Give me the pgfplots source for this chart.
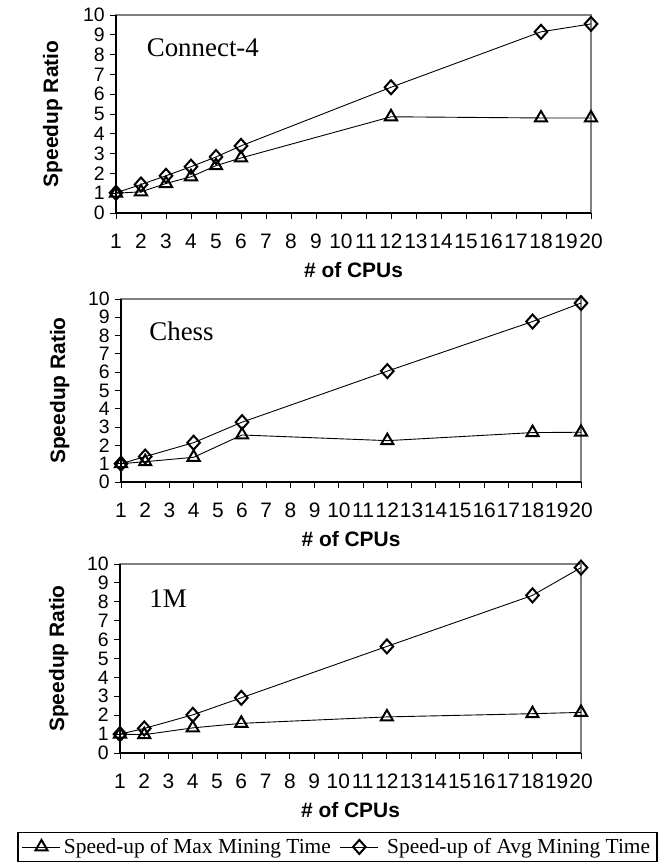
\documentclass[border=0pt]{standalone}
\usepackage{fontspec}
\setmainfont{Liberation Serif}
\setsansfont{Liberation Sans}
\usepackage{pgfplots}
\pgfplotsset{compat=1.18}

\pgfplotsset{
  speedup/.style={
    scale only axis, clip=false,
    xmin=1, xmax=20, ymin=0, ymax=10,
    xtick={1,...,20}, ytick={0,...,10},
    axis lines=left,
    axis line style={-, black, line width=1.3bp},
    axis background/.style={draw=gray, line width=1.8bp},
    tick align=outside,
    major tick length=6bp,
    tick style={black, line width=1bp},
    /pgf/number format/assume math mode=true,
    xticklabel style={font=\sffamily\fontsize{21}{21}\selectfont, inner sep=0bp,
      text height=15bp, text depth=0bp, anchor=north, yshift=-14bp},
    yticklabel style={font=\sffamily\fontsize{19.5}{19.5}\selectfont, inner sep=1bp, xshift=-4bp},
    xlabel={\# of CPUs}, ylabel={Speedup Ratio},
    every axis x label/.style={at={(axis description cs:0.5,0)}, yshift=-57bp, anchor=center,
      font=\sffamily\bfseries\fontsize{21}{21}\selectfont},
    every axis y label/.style={at={(axis description cs:-0.133,0.5)}, anchor=center, rotate=90,
      font=\sffamily\bfseries\fontsize{21}{21}\selectfont},
    legend image code/.code={\draw[mark repeat=2, mark phase=2, ##1] plot coordinates {(0bp,0bp) (19bp,0bp) (38bp,0bp)};},
  },
  maxline/.style={black, line width=0.9bp, mark=triangle, mark size=7bp,
    mark options={solid, fill=white, line width=2bp}},
  avgline/.style={black, line width=0.9bp, mark=diamond, mark size=7bp,
    mark options={solid, fill=white, line width=2bp, xscale=1.2}},
}

\begin{document}
\begin{tikzpicture}
\useasboundingbox (0,0) rectangle (669bp,-868bp);

% Connect-4
\begin{axis}[speedup, at={(116bp,-213bp)}, width=475bp, height=198bp]
\addplot[maxline] coordinates {(1,1.0) (2,1.07) (3,1.49) (4,1.83) (5,2.39) (6,2.78) (12,4.86) (18,4.8) (20,4.8)};
\addplot[avgline] coordinates {(1,1.02) (2,1.44) (3,1.88) (4,2.34) (5,2.83) (6,3.39) (12,6.35) (18,9.15) (20,9.55)};
\node[anchor=base west, font=\fontsize{27}{27}\selectfont] at (rel axis cs:0.0575,0.79) {Connect-4};
\end{axis}

% Chess
\begin{axis}[speedup, at={(121bp,-482bp)}, width=460bp, height=183bp]
\addplot[maxline] coordinates {(1,1.0) (2,1.11) (4,1.35) (6,2.57) (12,2.26) (18,2.7) (20,2.72)};
\addplot[avgline] coordinates {(1,1.0) (2,1.39) (4,2.15) (6,3.27) (12,6.06) (18,8.77) (20,9.78)};
\node[anchor=base west, font=\fontsize{27}{27}\selectfont] at (rel axis cs:0.054,0.774) {Chess};
\end{axis}

% 1M
\begin{axis}[speedup, at={(120bp,-753bp)}, width=461bp, height=189bp,
  legend columns=2,
  legend style={at={(axis description cs:0.472,-0.418)}, anchor=north,
    draw=black, line width=1.3bp, inner xsep=4bp, inner ysep=2bp,
    font=\fontsize{21.5}{21.5}\selectfont,
    nodes={inner xsep=3bp, inner ysep=4bp},
    /tikz/every even column/.append style={column sep=6bp}},
]
\addplot[maxline] coordinates {(1,1.0) (2,0.97) (4,1.33) (6,1.57) (12,1.91) (18,2.08) (20,2.15)};
\addplot[avgline] coordinates {(1,1.0) (2,1.3) (4,2.02) (6,2.92) (12,5.64) (18,8.34) (20,9.81)};
\node[anchor=base west, font=\fontsize{27}{27}\selectfont] at (rel axis cs:0.056,0.771) {1M};
\legend{Speed-up of Max Mining Time, \ Speed-up of Avg Mining Time}
\end{axis}
\end{tikzpicture}
\end{document}
